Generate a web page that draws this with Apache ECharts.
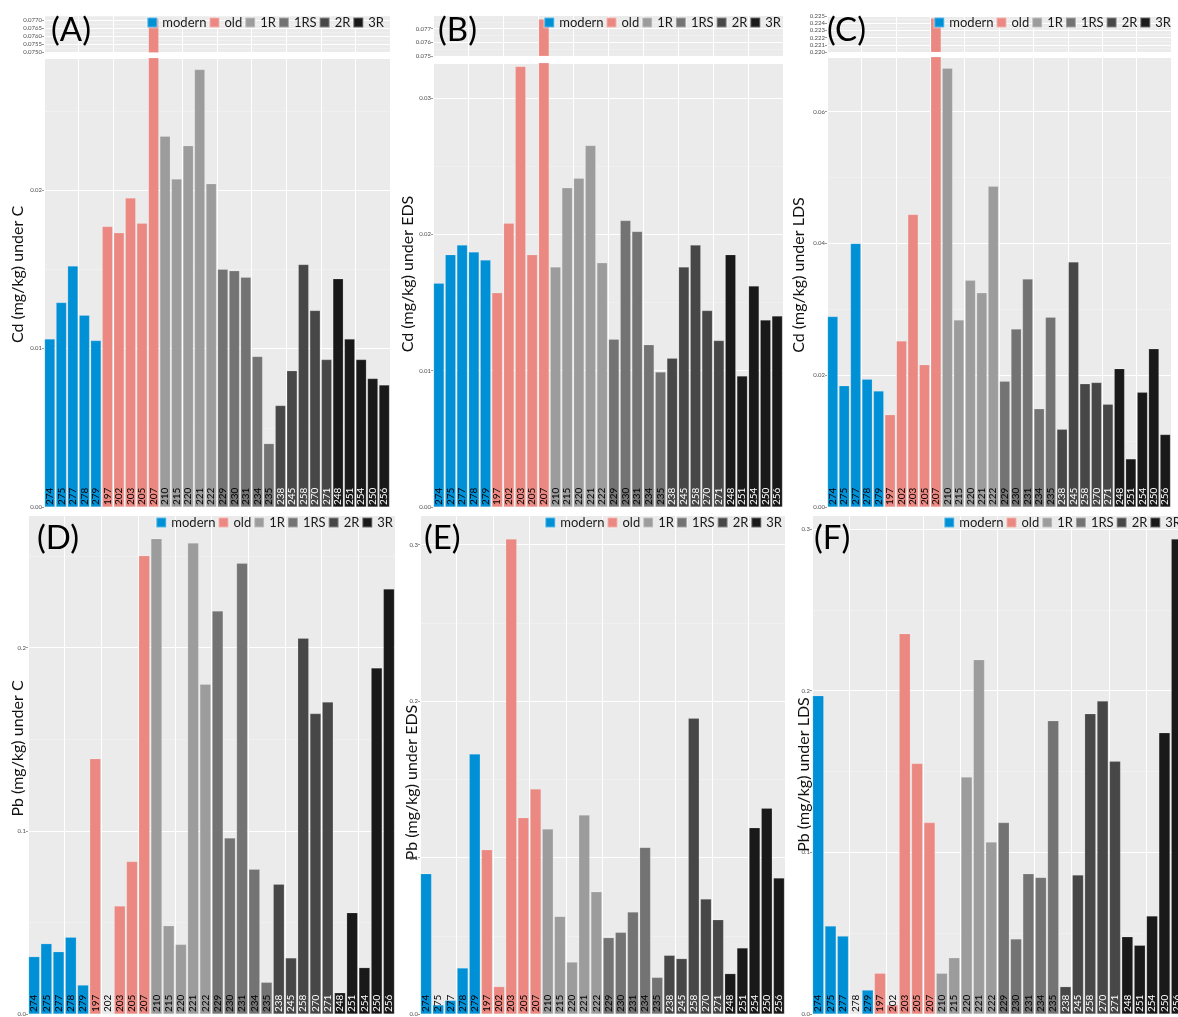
<!DOCTYPE html>
<html>
<head>
<meta charset="utf-8">
<script src="https://cdn.jsdelivr.net/npm/echarts@6/dist/echarts.min.js"></script>
<style>
  html, body { margin: 0; padding: 0; background: #fff; }
  #chart { width: 1178px; height: 1017px; }
</style>
</head>
<body>
<div id="chart"></div>
<script>
// sample ids, in plotting order
const categories = ['274', '275', '277', '278', '279', '197', '202', '203', '205', '207',
  '210', '215', '220', '221', '222', '229', '230', '231', '234', '235',
  '238', '245', '258', '270', '271', '248', '251', '254', '250', '256']
const groups = ['modern', 'old', '1R', '1RS', '2R', '3R']
const categoryGroup = [0, 0, 0, 0, 0, 1, 1, 1, 1, 1, 2, 2, 2, 2, 2, 3, 3, 3, 3, 3,
  4, 4, 4, 4, 4, 5, 5, 5, 5, 5]

// Cd (mg/kg)
const cdC = [0.0106, 0.0129, 0.0152, 0.0121, 0.0105, 0.0177, 0.0173, 0.0195, 0.0179, 0.0771,
  0.0234, 0.0207, 0.0228, 0.0276, 0.0204, 0.0150, 0.0149, 0.0145, 0.0095, 0.0040,
  0.0064, 0.0086, 0.0153, 0.0124, 0.0093, 0.0144, 0.0106, 0.0093, 0.0081, 0.0077]
const cdEDS = [0.0164, 0.0185, 0.0192, 0.0187, 0.0181, 0.0157, 0.0208, 0.0323, 0.0185, 0.0777,
  0.0176, 0.0234, 0.0241, 0.0265, 0.0179, 0.0123, 0.0210, 0.0202, 0.0119, 0.0099,
  0.0109, 0.0176, 0.0192, 0.0144, 0.0122, 0.0185, 0.0096, 0.0162, 0.0137, 0.0140]
const cdLDS = [0.0289, 0.0184, 0.0400, 0.0194, 0.0176, 0.0140, 0.0252, 0.0444, 0.0216, 0.2247,
  0.0666, 0.0284, 0.0344, 0.0325, 0.0487, 0.0191, 0.0270, 0.0346, 0.0149, 0.0288,
  0.0118, 0.0372, 0.0187, 0.0189, 0.0156, 0.0210, 0.0073, 0.0174, 0.0240, 0.0110]

// Pb (mg/kg)
const pbC = [0.0313, 0.0384, 0.0340, 0.0419, 0.0158, 0.1394, 0, 0.0590, 0.0832, 0.2502,
  0.2595, 0.0482, 0.0380, 0.2571, 0.1800, 0.2200, 0.0961, 0.2460, 0.0790, 0.0173,
  0.0708, 0.0306, 0.2051, 0.1640, 0.1703, 0.0116, 0.0553, 0.0253, 0.1889, 0.2320]
const pbEDS = [0.0897, 0.0058, 0.0087, 0.0294, 0.1662, 0.1050, 0.0175, 0.3036, 0.1255, 0.1438,
  0.1183, 0.0624, 0.0332, 0.1272, 0.0782, 0.0488, 0.0522, 0.0652, 0.1065, 0.0234,
  0.0375, 0.0354, 0.1890, 0.0735, 0.0603, 0.0258, 0.0422, 0.1191, 0.1315, 0.0869]
const pbLDS = [0.1969, 0.0544, 0.0482, 0, 0.0148, 0.0252, 0.0056, 0.2353, 0.1550, 0.1184,
  0.0252, 0.0348, 0.1466, 0.2192, 0.1064, 0.1184, 0.0464, 0.0868, 0.0845, 0.1814,
  0.0169, 0.0860, 0.1858, 0.1936, 0.1563, 0.0478, 0.0425, 0.0606, 0.1740, 0.2938]

const groupColors = ['#0090D6', '#EA8881', '#9C9C9C', '#737373', '#474747', '#191919']
const labelColors = ['#000', '#000', '#000', '#000', '#fff', '#fff']

// layout of the six panels (top row has a broken y axis: mini + main)
// namePad: [up, down] shift of the axis title along the axis
const panels = [
  { tag: '(A)', values: cdC, name: 'Cd (mg/kg) under C', left: 44, width: 346, nameGap: 18, namePad: [16, 0],
    mini: { top: 15, bottom: 52.5, min: 0.075, max: 0.07732, interval: 0.0005, digits: 4 },
    main: { top: 58, bottom: 507, min: 0, max: 0.02833, interval: 0.01, digits: 2 },
    legend: { right: 794, top: 16 }, tagPos: [51, 14] },
  { tag: '(B)', values: cdEDS, name: 'Cd (mg/kg) under EDS', left: 433, width: 350, nameGap: 17, namePad: [22, 0],
    mini: { top: 15, bottom: 56, min: 0.075, max: 0.078, interval: 0.001, digits: 3 },
    main: { top: 63, bottom: 507, min: 0, max: 0.03255, interval: 0.01, digits: 2 },
    legend: { right: 397, top: 16 }, tagPos: [438, 14] },
  { tag: '(C)', values: cdLDS, name: 'Cd (mg/kg) under LDS', left: 827, width: 344, nameGap: 20, namePad: [14, 0],
    mini: { top: 15, bottom: 52, min: 0.22, max: 0.22514, interval: 0.001, digits: 3 },
    main: { top: 57, bottom: 507, min: 0, max: 0.0683, interval: 0.02, digits: 2 },
    legend: { right: 7, top: 16 }, tagPos: [827, 14] },
  { tag: '(D)', values: pbC, name: 'Pb (mg/kg) under C', left: 28, width: 367, nameGap: 2, namePad: [32, 0],
    main: { top: 515, bottom: 1014, min: 0, max: 0.2724, interval: 0.1, digits: 1 },
    legend: { right: 785, top: 516 }, tagPos: [37, 522] },
  { tag: '(E)', values: pbEDS, name: 'Pb (mg/kg) under EDS', left: 420, width: 365, nameGap: 0, namePad: [0, 36],
    main: { top: 515, bottom: 1014, min: 0, max: 0.319, interval: 0.1, digits: 1 },
    legend: { right: 396, top: 516 }, tagPos: [424, 522] },
  { tag: '(F)', values: pbLDS, name: 'Pb (mg/kg) under LDS', left: 812, width: 371, nameGap: 0, namePad: [0, 20],
    main: { top: 515, bottom: 1014, min: 0, max: 0.3087, interval: 0.1, digits: 1 },
    legend: { right: -3, top: 516 }, tagPos: [814, 522] },
]

const grid = []
const xAxis = []
const yAxis = []
const series = []
const legend = []
const graphic = []

panels.forEach((p) => {
  const parts = p.mini ? [['mini', p.mini], ['main', p.main]] : [['main', p.main]]
  parts.forEach(([kind, c]) => {
    const idx = grid.length
    const isMain = kind === 'main'
    grid.push({
      left: p.left,
      top: c.top,
      width: p.width,
      height: c.bottom - c.top,
      show: true,
      backgroundColor: '#EBEBEB',
      borderWidth: 0,
      containLabel: false,
      outerBoundsMode: 'none',
    })
    // axis that carries the bars and the vertical grid lines
    const xIdx = xAxis.length
    xAxis.push({
      type: 'category',
      gridIndex: idx,
      position: 'bottom',
      data: categories,
      axisLine: { show: false },
      axisTick: { show: false },
      axisLabel: { show: false },
      splitLine: { show: true, lineStyle: { color: '#ffffff', width: 1 } },
    })
    // sample ids written inside the bars, drawn above them
    if (isMain) {
      xAxis.push({
        type: 'category',
        gridIndex: idx,
        position: 'bottom',
        z: 10,
        data: categories,
        axisLine: { show: false },
        axisTick: { show: false },
        splitLine: { show: false },
        axisLabel: {
          show: true,
          inside: true,
          rotate: 90,
          interval: 0,
          margin: 2,
          fontSize: 10,
          fontFamily: 'Lato',
          hideOverlap: false,
          color: (v, i) => labelColors[categoryGroup[i]],
        },
      })
    }
    yAxis.push({
      type: 'value',
      gridIndex: idx,
      min: c.min,
      max: c.max,
      interval: c.interval,
      name: isMain ? p.name : '',
      nameLocation: 'middle',
      nameGap: p.nameGap,
      nameMoveOverlap: false,
      nameTextStyle: {
        fontSize: 16,
        color: '#111',
        fontFamily: 'Lato',
        padding: [0, p.namePad[1], 0, p.namePad[0]],
      },
      axisLine: { show: false },
      axisTick: { show: true, length: 2, lineStyle: { color: '#555', width: 0.6 } },
      axisLabel: {
        fontSize: 6,
        color: '#4d4d4d',
        margin: 2,
        showMaxLabel: false,
        formatter: (v) => v.toFixed(c.digits),
      },
      splitLine: { show: true, lineStyle: { color: '#ffffff', width: 1 } },
      minorTick: { show: false, splitNumber: 2 },
      minorSplitLine: { show: true, lineStyle: { color: '#F4F4F4', width: 0.6 } },
    })
    groups.forEach((g, gi) => {
      series.push({
        type: 'bar',
        name: g,
        xAxisIndex: xIdx,
        yAxisIndex: idx,
        data: p.values.map((v, i) => (categoryGroup[i] === gi ? v : '-')),
        barGap: '-100%',
        barCategoryGap: '10%',
        clip: true,
        silent: true,
        itemStyle: { color: groupColors[gi], borderColor: 'rgba(255,255,255,0.35)', borderWidth: 0.5 },
      })
    })
  })
  legend.push({
    data: groups,
    right: p.legend.right,
    top: p.legend.top,
    icon: 'rect',
    itemWidth: 10,
    itemHeight: 10,
    itemGap: 2,
    padding: 0,
    selectedMode: false,
    textStyle: { fontSize: 13, color: '#1a1a1a', fontFamily: 'Lato' },
  })
  graphic.push({
    type: 'text',
    left: p.tagPos[0],
    top: p.tagPos[1],
    z: 100,
    style: { text: p.tag, fontSize: 33, fontFamily: 'Lato', fill: '#000' },
  })
})

const chart = echarts.init(document.getElementById('chart'))
chart.setOption({
  animation: false,
  backgroundColor: '#ffffff',
  textStyle: { fontFamily: 'Lato' },
  grid,
  xAxis,
  yAxis,
  legend,
  graphic,
  series,
})
</script>
</body>
</html>
